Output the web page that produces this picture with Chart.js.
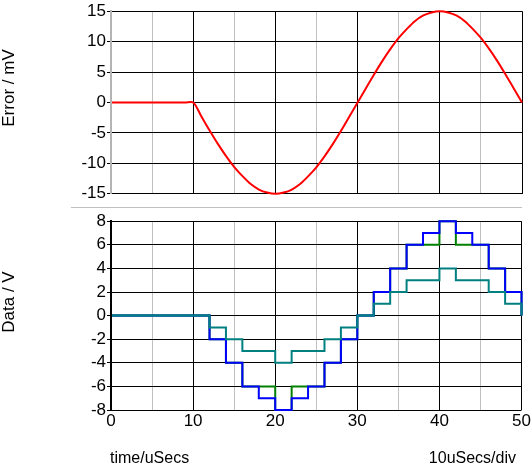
<!DOCTYPE html>
<html>
<head>
<meta charset="utf-8">
<script src="https://cdn.jsdelivr.net/npm/chart.js@4/dist/chart.umd.min.js"></script>
<style>
  body { margin: 0; background: #fff; font-family: "Liberation Sans", Arial, sans-serif; }
  #wrap { position: relative; width: 532px; height: 464px; overflow: hidden; }
  .box { position: absolute; left: 0; width: 532px; }
  .lbl { position: absolute; font-size: 16px; color: #000; white-space: nowrap; }
  .ylbl { position: absolute; font-size: 17px; color: #000; white-space: nowrap; transform: translate(-50%, -50%) rotate(-90deg); }
</style>
</head>
<body>
<div id="wrap">
  <div class="box" style="top:0;height:205px"><canvas id="errorChart"></canvas></div>
  <div class="box" style="top:210px;height:254px"><canvas id="dataChart"></canvas></div>
  <div style="position:absolute;left:71px;top:207px;width:451px;height:1px;background:#c0c0c0"></div>
  <div class="ylbl" style="left:9px;top:88px">Error / mV</div>
  <div class="ylbl" style="left:9px;top:302px">Data / V</div>
  <div class="lbl" style="left:110px;top:449px">time/uSecs</div>
  <div class="lbl" style="right:16px;top:449px">10uSecs/div</div>
</div>
<script>
// top trace: error in mV, one point per microsecond
const timeUs = [0,1,2,3,4,5,6,7,8,9,10,11,12,13,14,15,16,17,18,19,20,21,22,23,24,25,
    26,27,28,29,30,31,32,33,34,35,36,37,38,39,40,41,42,43,44,45,46,47,48,49,50];
const errorMv = [0,0,0,0,0,0,0,0,0,0,0,-2.3,-4.6,-6.8,-8.8,-10.6,-12.1,-13.4,-14.3,-14.8,-15,
    -14.8,-14.3,-13.4,-12.1,-10.6,-8.8,-6.8,-4.6,-2.3,0,2.3,4.6,6.8,8.8,10.6,12.1,13.4,14.3,14.8,15,
    14.8,14.3,13.4,12.1,10.6,8.8,6.8,4.6,2.3,0];

// bottom traces: sampled data in V, one step every 2 us
const stepTimes = [0,2,4,6,8,10,12,14,16,18,20,22,24,26,28,30,32,34,36,38,40,42,44,46,48,50];
const dataBlue  = [0,0,0,0,0,0,-2,-4,-6,-7,-8,-7,-6,-4,-2,0,2,4,6,7,8,7,6,4,2,0];
const dataGreen = [0,0,0,0,0,0,-2,-4,-6,-6,-8,-6,-6,-4,-2,0,2,4,6,6,8,6,6,4,2,0];
const dataTeal  = [0,0,0,0,0,0,-1,-2,-3,-3,-4,-3,-3,-2,-1,0,1,2,3,3,4,3,3,2,1,0];

// x grid: major (labelled) every 10, minor every 5
const xGridValues = [0,5,10,15,20,25,30,35,40,45,50];
const errorTicks = { min: -15, max: 15, step: 5 };
const dataTicks = { min: -8, max: 8, step: 2 };

const font = { family: '"Liberation Sans", Arial, sans-serif', size: 17 };

function toPoints(xs, ys) {
    return xs.map((x, i) => ({ x: x, y: ys[i] }));
}

function xScale(showLabels, zeroColor) {
    return {
        type: 'linear',
        min: 0,
        max: 50,
        border: { display: false },
        afterBuildTicks: scale => {
            scale.ticks = xGridValues.map(v => ({ value: v }));
        },
        grid: {
            drawTicks: false,
            color: ctx => {
                const v = ctx.tick.value;
                if (v === 0) return zeroColor;
                return v % 10 === 0 ? '#000' : '#c0c0c0';
            },
            lineWidth: 1
        },
        ticks: {
            display: showLabels,
            autoSkip: false,
            maxRotation: 0,
            padding: 1,
            color: '#000',
            font: font,
            callback: v => (v % 10 === 0 ? v : '')
        },
        afterFit: scale => { scale.height = showLabels ? 30 : 0; }
    };
}

function yScale(t, borderColor) {
    return {
        min: t.min,
        max: t.max,
        border: { display: true, color: borderColor, width: 2, z: 1 },
        grid: { color: '#000', lineWidth: 1, tickLength: 4 },
        ticks: { stepSize: t.step, padding: 1, color: '#000', font: font },
        afterFit: scale => { scale.width = 111; }
    };
}

const commonOptions = {
    responsive: true,
    maintainAspectRatio: false,
    animation: false,
    events: [],
    plugins: { legend: { display: false }, tooltip: { enabled: false } }
};

new Chart(document.getElementById('errorChart'), {
    type: 'line',
    data: {
        datasets: [{
            data: toPoints(timeUs, errorMv),
            borderColor: '#ff0000',
            borderWidth: 2,
            pointRadius: 0,
            tension: 0.3,
            clip: false
        }]
    },
    options: Object.assign({}, commonOptions, {
        layout: { padding: { top: 6, bottom: 9, left: 0, right: 10 } },
        scales: {
            x: xScale(false, '#b4b4b4'),
            y: yScale(errorTicks, '#b4b4b4')
        }
    })
});

new Chart(document.getElementById('dataChart'), {
    type: 'line',
    data: {
        datasets: [
            { data: toPoints(stepTimes, dataTeal), borderColor: '#008080' },
            { data: toPoints(stepTimes, dataBlue), borderColor: '#0000ff' },
            { data: toPoints(stepTimes, dataGreen), borderColor: '#008000' }
        ].map(ds => Object.assign(ds, { stepped: true, borderWidth: 2, pointRadius: 0, clip: false }))
    },
    options: Object.assign({}, commonOptions, {
        layout: { padding: { top: 9, bottom: 24, left: 0, right: 10 } },
        scales: {
            x: xScale(true, '#000'),
            y: yScale(dataTicks, '#000')
        }
    })
});
</script>
</body>
</html>
